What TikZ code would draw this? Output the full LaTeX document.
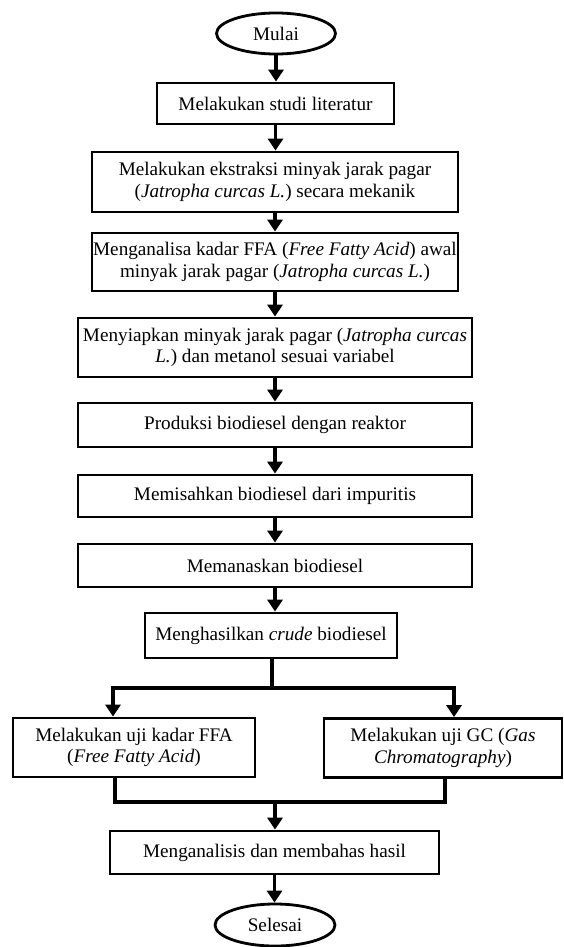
\documentclass[tikz,border=0pt]{standalone}
\usepackage{fontspec}
\setmainfont{Liberation Serif}
\usetikzlibrary{arrows.meta,shapes.geometric}
\tikzset{
  base/.style={draw=black, line width=2.8pt, fill=white, align=center, inner sep=0pt,
    font=\fontsize{19.2}{21.7}\selectfont},
  procbox/.style={base, rectangle},
  termnode/.style={base, ellipse},
  flow/.style={line width=3.6pt, -{Triangle[length=12pt,width=15pt]}},
  joinline/.style={line width=4.6pt, line cap=rect}
}
\begin{document}
\begin{tikzpicture}[x=1pt,y=-1pt]
\useasboundingbox (0,0) rectangle (564,947);
\node[termnode, minimum width=119pt, minimum height=41pt] (mulai) at (276,33.5) {Mulai};
\node[procbox, minimum width=237pt, minimum height=41pt] (b1) at (275.5,103.5) {Melakukan studi literatur};
\node[procbox, minimum width=366pt, minimum height=60pt] (b2) at (275,182) {Melakukan ekstraksi minyak jarak pagar\\(\textit{Jatropha curcas L.}) secara mekanik};
\node[procbox, minimum width=366pt, minimum height=58pt] (b3) at (275,262) {Menganalisa kadar FFA (\textit{Free Fatty Acid}) awal\\minyak jarak pagar (\textit{Jatropha curcas L.})};
\node[procbox, minimum width=394pt, minimum height=59pt] (b4) at (275,347.5) {Menyiapkan minyak jarak pagar (\textit{Jatropha curcas}\\\textit{L.}) dan metanol sesuai variabel};
\node[procbox, minimum width=394pt, minimum height=44pt] (b5) at (275,425) {Produksi biodiesel dengan reaktor};
\node[procbox, minimum width=394pt, minimum height=42pt] (b6) at (275,496) {Memisahkan biodiesel dari impuritis};
\node[procbox, minimum width=394pt, minimum height=43pt] (b7) at (275,565.5) {Memanaskan biodiesel};
\node[procbox, minimum width=252pt, minimum height=45pt] (b8) at (271,635.5) {Menghasilkan \textit{crude} biodiesel};
\node[procbox, minimum width=242pt, minimum height=59pt] (left) at (134,747.5) {Melakukan uji kadar FFA\\(\textit{Free Fatty Acid})};
\node[procbox, minimum width=238pt, minimum height=59pt] (right) at (443,748) {Melakukan uji GC (\textit{Gas}\\\textit{Chromatography})};
\node[procbox, minimum width=329pt, minimum height=43pt] (b9) at (274.5,852.5) {Menganalisis dan membahas hasil};
\node[termnode, minimum width=120pt, minimum height=42pt] (selesai) at (275,925) {Selesai};

\draw[flow] (mulai) -- (mulai.south |- b1.north);
\draw[flow] (b1) -- (b1.south |- b2.north);
\draw[flow] (b2) -- (b2.south |- b3.north);
\draw[flow] (b3) -- (b3.south |- b4.north);
\draw[flow] (b4) -- (b4.south |- b5.north);
\draw[flow] (b5) -- (b5.south |- b6.north);
\draw[flow] (b6) -- (b6.south |- b7.north);
\draw[flow] (b7) -- (b7.south |- b8.north);

\coordinate (jc) at (272,688);
\coordinate (jl) at (113,688);
\coordinate (jr) at (454,688);
\draw[joinline] (b8.south -| jc) -- (jc);
\draw[joinline] (jl) -- (jr);
\draw[flow] (jl) -- (jl |- left.north);
\draw[flow] (jr) -- (jr |- right.north);

\coordinate (ml) at (115,802);
\coordinate (mr) at (445,802);
\coordinate (mc) at (275,802);
\draw[joinline] (ml |- left.south) -- (ml) -- (mr) -- (mr |- right.south);
\draw[flow] (mc) -- (mc |- b9.north);
\draw[flow] (b9) -- (b9.south |- selesai.north);
\end{tikzpicture}
\end{document}
